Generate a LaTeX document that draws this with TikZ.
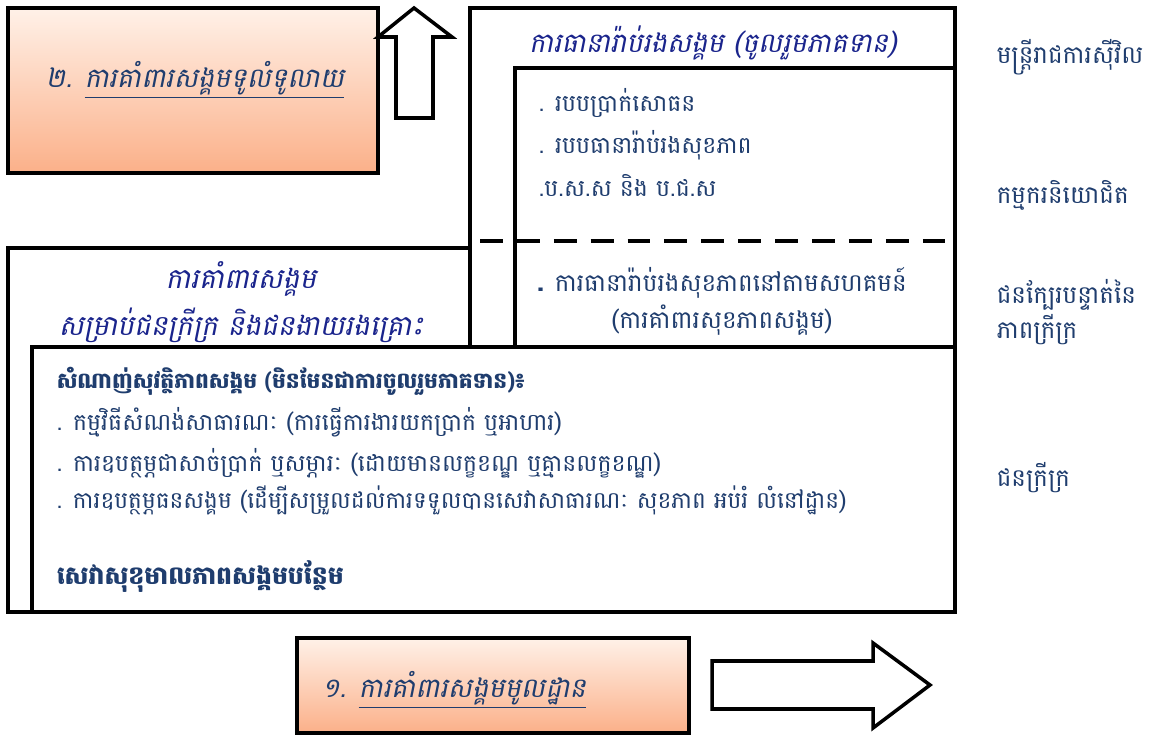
\documentclass[tikz,border=0pt]{standalone}
\usepackage{fontspec}
\newfontfamily\khmer[Script=Khmer]{Battambang}
\newfontfamily\khmerit[Script=Khmer,FakeSlant=0.2]{Battambang}
\definecolor{txtblue}{RGB}{31,61,110}
\definecolor{ttlblue}{RGB}{26,36,140}
\definecolor{peachtop}{RGB}{255,241,232}
\definecolor{peachbot}{RGB}{251,176,137}
\begin{document}
\begin{tikzpicture}[x=0.02cm,y=-0.02cm,line join=miter,line width=2pt,
	txt/.style={anchor=west,inner sep=0pt,text=txtblue,font=\khmer\fontsize{13.4}{21}\selectfont},
	ttl/.style={inner sep=0pt,text=ttlblue,font=\khmerit\fontsize{15.5}{26.7}\selectfont,align=center},
	side/.style={anchor=west,inner sep=0pt,text=txtblue,font=\khmer\fontsize{14}{20}\selectfont,align=left}]
	\useasboundingbox (0,0) rectangle (1149,736);
	%%% box 2 and up arrow
	\shade[top color=peachtop,bottom color=peachbot] (8,8) rectangle (378,173);
	\draw[line width=2.4pt] (8,8) rectangle (378,173);
	\node[ttl,text=txtblue] (lvl2) at (195,80) {២. \underline{ការគាំពារសង្គមទូលំទូលាយ}};
	\draw (378,37)--(414,8)--(452,37)--(433,37)--(433,118)--(396,118)--(396,37)--cycle;
	%%% social insurance
	\draw (470,8) rectangle (955,612);
	\node[ttl] (insur) at (713,43) {ការធានារ៉ាប់រងសង្គម (ចូលរួមភាគទាន)};
	\draw (515,68) rectangle (955,347);
	\node[txt] (pens) at (537,103) {. របបប្រាក់សោធន};
	\node[txt] (health) at (537,145) {. របបធានារ៉ាប់រងសុខភាព};
	\node[txt] (nssf) at (537,185) {.ប.ស.ស និង ប.ជ.ស};
	\draw[dash pattern=on 13pt off 8pt] (480,241)--(945,241);
	\node[txt,anchor=center,align=center,font=\khmer\fontsize{14}{21}\selectfont] (chi) at (722,301) {{\bfseries.} ការធានារ៉ាប់រងសុខភាពនៅតាមសហគមន៍\\(ការគាំពារសុខភាពសង្គម)};
	%%% social assistance
	\draw[fill=white] (8,248) rectangle (470,612);
	\node[ttl,font=\khmerit\fontsize{16}{26.7}\selectfont] (assist) at (241,302) {ការគាំពារសង្គម\\សម្រាប់ជនក្រីក្រ និងជនងាយរងគ្រោះ};
	\draw[fill=white] (32,347) rectangle (955,612);
	\node[txt,font=\khmer\bfseries\fontsize{12.4}{15}\selectfont] (net) at (55,381) {សំណាញ់សុវត្ថិភាពសង្គម (មិនមែនជាការចូលរួមភាគទាន)៖};
	\node[txt] (works) at (55,422) {. កម្មវិធីសំណង់សាធារណៈ (ការធ្វើការងារយកប្រាក់ ឬអាហារ)};
	\node[txt] (cash) at (55,463) {. ការឧបត្ថម្ភជាសាច់ប្រាក់ ឬសម្ភារៈ (ដោយមានលក្ខខណ្ឌ ឬគ្មានលក្ខខណ្ឌ)};
	\node[txt,font=\khmer\fontsize{13.2}{15}\selectfont] (subs) at (55,500) {. ការឧបត្ថម្ភធនសង្គម (ដើម្បីសម្រួលដល់ការទទួលបានសេវាសាធារណៈ សុខភាព អប់រំ លំនៅដ្ឋាន)};
	\node[txt,font=\khmer\bfseries\fontsize{14.3}{15}\selectfont] (welf) at (55,577) {សេវាសុខុមាលភាពសង្គមបន្ថែម};
	%%% target groups
	\node[side] (civil) at (995,57) {មន្ត្រីរាជការស៊ីវិល};
	\node[side] (workers) at (995,195) {កម្មករនិយោជិត};
	\node[side] (near) at (995,312) {ជនក្បែរបន្ទាត់នៃ\\ភាពក្រីក្រ};
	\node[side] (poor) at (995,478) {ជនក្រីក្រ};
	%%% box 1 and right arrow
	\shade[top color=peachtop,bottom color=peachbot] (297,638) rectangle (689,733);
	\draw (297,638) rectangle (689,733);
	\node[ttl,text=txtblue,anchor=west] (lvl1) at (320,690) {១. \underline{ការគាំពារសង្គមមូលដ្ឋាន}};
	\draw (712,661)--(873,661)--(873,643)--(930,685)--(873,728)--(873,709)--(712,709)--cycle;
\end{tikzpicture}
\end{document}
